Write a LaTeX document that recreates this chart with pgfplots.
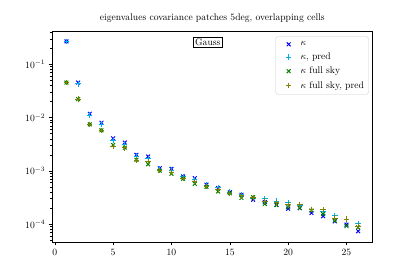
\documentclass[border=0pt]{standalone}
\usepackage{pgfplots}
\pgfplotsset{compat=1.18}
\definecolor{mplgreen}{HTML}{008000}
\definecolor{mplolive}{HTML}{808000}
\begin{document}
\begin{tikzpicture}
\begin{axis}[
  scale only axis, width=334pt, height=219pt,
  ymode=log, xmin=-0.25, xmax=27.25, ymin=4.6e-5, ymax=0.41,
  xtick={0,5,10,15,20,25},
  tick align=outside, xtick pos=bottom, ytick pos=left,
  tick style={black, line width=0.6pt},
  axis line style={line width=0.6pt},
  major tick length=3.5pt, minor tick length=2pt,
  tick label style={font=\normalsize},
  title={eigenvalues covariance patches 5deg, overlapping cells},
  title style={font=\normalsize},
  legend style={at={(1,1)}, xshift=-4pt, yshift=-5pt, anchor=north east, draw=black!20, rounded corners=2pt, font=\normalsize, row sep=2.2pt, inner xsep=3pt, inner ysep=3pt, /tikz/every even column/.append style={column sep=4pt}},
  legend cell align=left,
  legend image code/.code={\path (0cm,0cm) (0.7cm,0cm); \draw[#1] plot coordinates {(0.35cm,0cm)};},
  every axis plot/.append style={only marks, line width=1pt, mark size=2.8pt},
]
\addplot[blue, mark=x] coordinates {(1,0.27) (2,0.0455) (3,0.0118) (4,0.0080) (5,0.00408) (6,0.0034) (7,0.0020) (8,0.00186) (9,0.00112) (10,0.00109) (11,0.000785) (12,0.00073) (13,0.00055) (14,0.000475) (15,0.000395) (16,0.000356) (17,0.000287) (18,0.00026) (19,0.000231) (20,0.000195) (21,0.0002) (22,0.000162) (23,0.000141) (24,0.000113) (25,0.000098) (26,0.0000736)};
\addlegendentry{$\kappa$}
\addplot[cyan, mark=+] coordinates {(1,0.265) (2,0.043) (3,0.0112) (4,0.0075) (5,0.0037) (6,0.0031) (7,0.0019) (8,0.0017) (9,0.00108) (10,0.00103) (11,0.00077) (12,0.00069) (13,0.00054) (14,0.00048) (15,0.00040) (16,0.00036) (17,0.00030) (18,0.00030) (19,0.00027) (20,0.00025) (21,0.00022) (22,0.00019) (23,0.00017) (24,0.000145) (25,0.00012) (26,0.000102)};
\addlegendentry{$\kappa$, pred}
\addplot[mplgreen, mark=x] coordinates {(1,0.0455) (2,0.0222) (3,0.00746) (4,0.00577) (5,0.00306) (6,0.00273) (7,0.00161) (8,0.00133) (9,0.00101) (10,0.00088) (11,0.00071) (12,0.00057) (13,0.0005) (14,0.00041) (15,0.00038) (16,0.00031) (17,0.00032) (18,0.000239) (19,0.000227) (20,0.00021) (21,0.0002) (22,0.00018) (23,0.000155) (24,0.000116) (25,0.000092) (26,0.000087)};
\addlegendentry{$\kappa$ full sky}
\addplot[mplolive, mark=+] coordinates {(1,0.0455) (2,0.0222) (3,0.0075) (4,0.0058) (5,0.0029) (6,0.0027) (7,0.0016) (8,0.0015) (9,0.00102) (10,0.00095) (11,0.00072) (12,0.00063) (13,0.00051) (14,0.00044) (15,0.00038) (16,0.00034) (17,0.00031) (18,0.00027) (19,0.00025) (20,0.00023) (21,0.00023) (22,0.00019) (23,0.000186) (24,0.00013) (25,0.000124) (26,0.000092)};
\addlegendentry{$\kappa$ full sky, pred}
\node[draw=black, line width=0.8pt, fill=white, inner sep=1.8pt, font=\normalsize] at (rel axis cs:0.486,0.949) {Gauss};
\end{axis}
\path[use as bounding box] ([xshift=-54pt,yshift=-36.5pt]current axis.south west) rectangle ([xshift=44pt,yshift=33pt]current axis.north east);
\end{tikzpicture}
\end{document}
